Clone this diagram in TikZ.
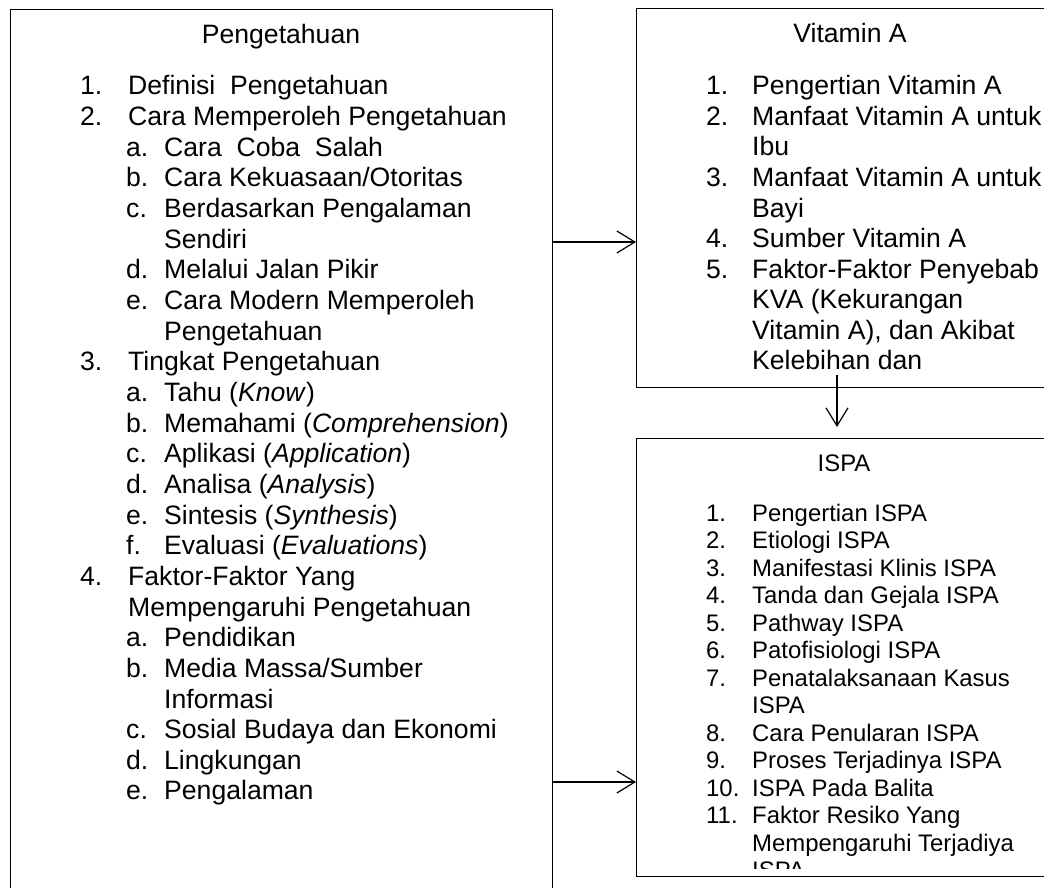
\documentclass[tikz,border=0pt]{standalone}
\usepackage{fontspec}
\setmainfont{Liberation Sans}
\usetikzlibrary{arrows.meta}
\newcommand{\biglist}{\fontsize{26.6pt}{30.65pt}\selectfont}
\newcommand{\smalllist}{\fontsize{23.9pt}{27.5pt}\selectfont}

\begin{document}
\begin{tikzpicture}[x=1pt, y=-1pt,
	box/.style={draw, line width=1.2pt, anchor=north west, inner sep=0pt},
	line/.style={anchor=base west, inner sep=0pt},
	title/.style={anchor=base, inner sep=0pt},
	arr/.style={line width=1.2pt, -{Straight Barb[length=18pt, width=22pt]}}]

	\clip (0,0) rectangle (1044,888);

	\node[box, minimum width=542pt, minimum height=900pt] (pengetahuan) at (10,9) {};
	\node[box, minimum width=430pt, minimum height=379pt] (vitamin) at (636,8) {};
	\node[box, minimum width=430pt, minimum height=438pt] (ispa) at (636,438) {};

	\node[title, font=\biglist] (pengetahuan title) at (281,44) {Pengetahuan};
	\node[title, font=\biglist] (vitamin title) at (850,43) {Vitamin A};
	\node[title, font=\smalllist] (ispa title) at (844,471) {ISPA};

	\foreach \lx/\tx/\lab/\txt [count=\i] in {
		80/128/1./Definisi\ \ Pengetahuan,
		80/128/2./Cara Memperoleh Pengetahuan,
		126/164/a./Cara\ \ Coba\ \ Salah,
		126/164/b./{Cara Kekuasaan/Otoritas},
		126/164/c./Berdasarkan Pengalaman,
		126/164/{}/Sendiri,
		126/164/d./Melalui Jalan Pikir,
		126/164/e./Cara Modern Memperoleh,
		126/164/{}/Pengetahuan,
		80/128/3./Tingkat Pengetahuan,
		126/164/a./Tahu (\textit{Know}),
		126/164/b./Memahami (\textit{Comprehension}),
		126/164/c./Aplikasi (\textit{Application}),
		126/164/d./Analisa (\textit{Analysis}),
		126/164/e./Sintesis (\textit{Synthesis}),
		126/164/f./Evaluasi (\textit{Evaluations}),
		80/128/4./Faktor-Faktor Yang,
		80/128/{}/Mempengaruhi Pengetahuan,
		126/164/a./Pendidikan,
		126/164/b./{Media Massa/Sumber},
		126/164/{}/Informasi,
		126/164/c./Sosial Budaya dan Ekonomi,
		126/164/d./Lingkungan,
		126/164/e./Pengalaman} {
		\node[line, font=\biglist] (pn\i) at ({\lx}, {95+30.65*(\i-1)}) {\lab};
		\node[line, font=\biglist] (pt\i) at ({\tx}, {95+30.65*(\i-1)}) {\txt};
	}

	\foreach \lab/\txt [count=\i] in {
		1./Pengertian Vitamin A,
		2./Manfaat Vitamin A untuk,
		{}/Ibu,
		3./Manfaat Vitamin A untuk,
		{}/Bayi,
		4./Sumber Vitamin A,
		5./Faktor-Faktor Penyebab,
		{}/KVA (Kekurangan,
		{}/{Vitamin A), dan Akibat},
		{}/Kelebihan dan} {
		\node[line, font=\biglist] (vn\i) at (706, {95+30.5*(\i-1)}) {\lab};
		\node[line, font=\biglist] (vt\i) at (752, {95+30.5*(\i-1)}) {\txt};
	}

	\begin{scope}
		\clip (ispa.north west) rectangle ([yshift=9pt]ispa.south east);
		\foreach \lab/\txt [count=\i] in {
			1./Pengertian ISPA,
			2./Etiologi ISPA,
			3./Manifestasi Klinis ISPA,
			4./Tanda dan Gejala ISPA,
			5./Pathway ISPA,
			6./Patofisiologi ISPA,
			7./Penatalaksanaan Kasus,
			{}/ISPA,
			8./Cara Penularan ISPA,
			9./Proses Terjadinya ISPA,
			10./ISPA Pada Balita,
			11./Faktor Resiko Yang,
			{}/Mempengaruhi Terjadiya,
			{}/ISPA} {
			\node[line, font=\smalllist] (sn\i) at (706, {521+27.5*(\i-1)}) {\lab};
			\node[line, font=\smalllist] (st\i) at (752, {521+27.5*(\i-1)}) {\txt};
		}
	\end{scope}

	\coordinate (upper) at (0,242);
	\coordinate (lower) at (0,782);
	\coordinate (drop) at (837,375);

	\draw[arr] (pengetahuan.east |- upper) -- (vitamin.west |- upper);
	\draw[arr] (pengetahuan.east |- lower) -- (ispa.west |- lower);
	\draw[arr, shorten >=11pt] (drop) -- (ispa.north -| drop);
\end{tikzpicture}
\end{document}
